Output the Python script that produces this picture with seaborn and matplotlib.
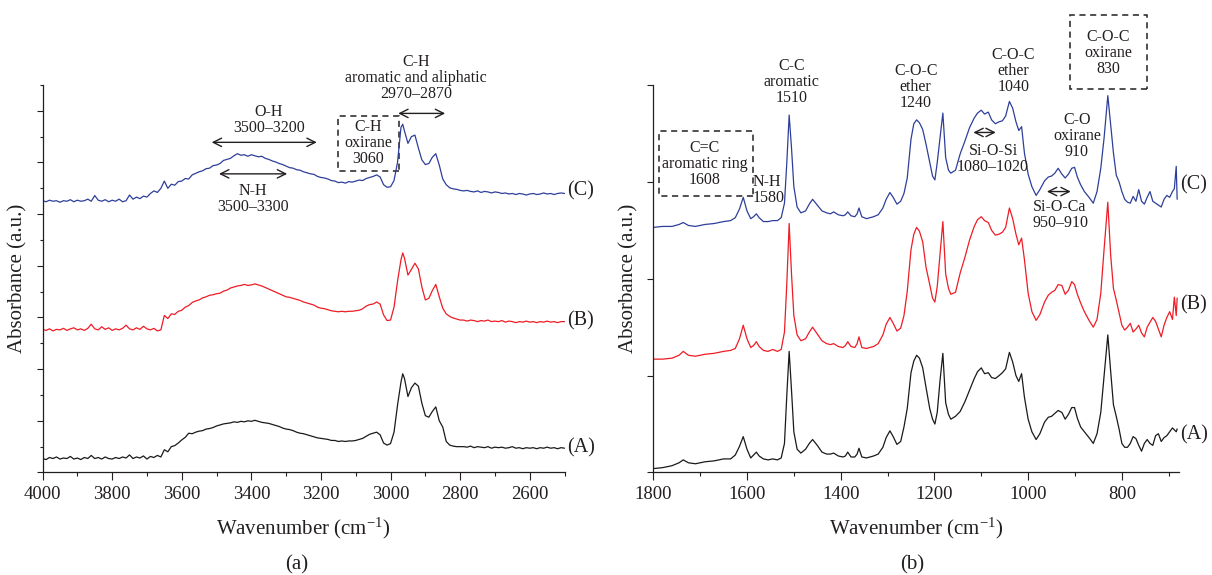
import matplotlib.pyplot as plt
import matplotlib.patches as patches
import seaborn as sns

# ---------------- panel (a): 4000-2500 cm-1 ----------------
wn_a = [4000, 3990, 3980, 3970, 3960, 3950, 3940, 3930, 3920, 3910,
        3900, 3890, 3880, 3870, 3860, 3850, 3840, 3830, 3820, 3810,
        3800, 3790, 3780, 3770, 3760, 3750, 3740, 3730, 3720, 3710,
        3700, 3690, 3680, 3670, 3660, 3650, 3640, 3630, 3620, 3610,
        3600, 3590, 3580, 3570, 3560, 3550, 3540, 3530, 3520, 3510,
        3500, 3490, 3480, 3470, 3460, 3450, 3440, 3430, 3420, 3410,
        3400, 3390, 3380, 3370, 3360, 3350, 3340, 3330, 3320, 3310,
        3300, 3290, 3280, 3270, 3260, 3250, 3240, 3230, 3220, 3210,
        3200, 3190, 3180, 3170, 3160, 3150, 3140, 3130, 3120, 3110,
        3100, 3090, 3080, 3070, 3060, 3050, 3040, 3030, 3020, 3010,
        3000, 2990, 2980, 2970, 2965, 2960, 2950, 2940, 2930, 2920,
        2910, 2900, 2890, 2880, 2870, 2860, 2850, 2840, 2830, 2820,
        2810, 2800,
        2790, 2780, 2770, 2760, 2750, 2740, 2730, 2720, 2710, 2700,
        2690, 2680, 2670, 2660, 2650, 2640, 2630, 2620, 2610, 2600,
        2590, 2580, 2570, 2560, 2550, 2540, 2530, 2520, 2510, 2500]

spec_a_C = [5.26, 5.24, 5.27, 5.25, 5.26, 5.23, 5.26, 5.25, 5.28, 5.24,
            5.27, 5.25, 5.26, 5.29, 5.25, 5.36, 5.27, 5.25, 5.28, 5.24,
            5.27, 5.25, 5.29, 5.24, 5.26, 5.37, 5.29, 5.33, 5.30, 5.35,
            5.33, 5.40, 5.45, 5.42, 5.50, 5.64, 5.50, 5.58, 5.56, 5.63,
            5.64, 5.69, 5.68, 5.76, 5.79, 5.82, 5.84, 5.88, 5.89, 5.94,
            5.95, 5.98, 6.04, 6.06, 6.08, 6.13, 6.17, 6.14, 6.15, 6.12,
            6.15, 6.13, 6.11, 6.12, 6.08, 6.06, 6.03, 6.01, 5.98, 5.96,
            5.93, 5.90, 5.89, 5.86, 5.85, 5.82, 5.80, 5.78, 5.77, 5.73,
            5.71, 5.70, 5.68, 5.65, 5.64, 5.61, 5.62, 5.60, 5.63, 5.62,
            5.64, 5.66, 5.65, 5.69, 5.71, 5.73, 5.76, 5.72, 5.57, 5.52,
            5.53, 5.65, 6.00, 6.68, 6.74, 6.61, 6.37, 6.50, 6.53, 6.28,
            6.05, 5.96, 5.98, 6.10, 6.17, 5.95, 5.68, 5.57, 5.51, 5.49,
            5.48, 5.46,
            5.45, 5.46, 5.44, 5.43, 5.45, 5.42, 5.44, 5.43, 5.41, 5.43,
            5.42, 5.40, 5.41, 5.39, 5.40, 5.38, 5.40, 5.39, 5.37, 5.39,
            5.40, 5.38, 5.39, 5.41, 5.39, 5.40, 5.38, 5.40, 5.41, 5.40]

spec_a_B = [2.77, 2.75, 2.78, 2.74, 2.77, 2.76, 2.79, 2.75, 2.78, 2.80,
            2.76, 2.78, 2.75, 2.79, 2.87, 2.78, 2.76, 2.82, 2.77, 2.80,
            2.75, 2.78, 2.76, 2.79, 2.85, 2.78, 2.76, 2.80, 2.77, 2.83,
            2.78, 2.76, 2.79, 2.74, 2.76, 3.04, 2.98, 3.07, 3.06, 3.12,
            3.14, 3.20, 3.23, 3.29, 3.32, 3.34, 3.38, 3.40, 3.43, 3.44,
            3.46, 3.47, 3.51, 3.53, 3.57, 3.59, 3.61, 3.62, 3.64, 3.62,
            3.63, 3.65, 3.63, 3.61, 3.58, 3.55, 3.52, 3.49, 3.46, 3.43,
            3.40, 3.39, 3.37, 3.35, 3.33, 3.30, 3.28, 3.26, 3.24, 3.20,
            3.18, 3.17, 3.15, 3.13, 3.12, 3.11, 3.12, 3.11, 3.12, 3.12,
            3.13, 3.14, 3.17, 3.22, 3.25, 3.26, 3.30, 3.26, 3.05, 2.94,
            2.95, 3.20, 3.70, 4.12, 4.25, 4.15, 3.82, 3.93, 4.05, 3.94,
            3.59, 3.34, 3.37, 3.52, 3.64, 3.40, 3.18, 3.07, 3.02, 2.99,
            2.97, 2.95,
            2.95, 2.93, 2.95, 2.94, 2.92, 2.94, 2.93, 2.95, 2.92, 2.93,
            2.92, 2.94, 2.91, 2.93, 2.92, 2.90, 2.92, 2.91, 2.93, 2.91,
            2.92, 2.90, 2.92, 2.91, 2.93, 2.91, 2.92, 2.90, 2.92, 2.92]

spec_a_A = [0.27, 0.25, 0.29, 0.27, 0.30, 0.26, 0.28, 0.27, 0.31, 0.26,
            0.28, 0.25, 0.29, 0.27, 0.33, 0.27, 0.29, 0.26, 0.30, 0.27,
            0.26, 0.29, 0.27, 0.30, 0.28, 0.34, 0.27, 0.30, 0.28, 0.32,
            0.26, 0.31, 0.29, 0.33, 0.30, 0.44, 0.40, 0.50, 0.52, 0.57,
            0.63, 0.68, 0.76, 0.75, 0.78, 0.80, 0.81, 0.84, 0.85, 0.87,
            0.90, 0.92, 0.94, 0.95, 0.96, 0.98, 0.97, 0.99, 0.98, 1.00,
            0.99, 1.01, 0.99, 0.97, 0.96, 0.95, 0.93, 0.91, 0.89, 0.86,
            0.84, 0.83, 0.81, 0.78, 0.76, 0.75, 0.73, 0.71, 0.69, 0.67,
            0.66, 0.65, 0.64, 0.62, 0.62, 0.60, 0.61, 0.60, 0.61, 0.61,
            0.62, 0.64, 0.66, 0.70, 0.74, 0.76, 0.78, 0.73, 0.57, 0.53,
            0.56, 0.78, 1.30, 1.75, 1.91, 1.82, 1.47, 1.64, 1.73, 1.67,
            1.34, 1.10, 1.07, 1.18, 1.27, 1.00, 0.88, 0.60, 0.53, 0.51,
            0.50, 0.50,
            0.50, 0.49, 0.51, 0.48, 0.50, 0.49, 0.48, 0.50, 0.47, 0.49,
            0.48, 0.49, 0.47, 0.48, 0.50, 0.47, 0.48, 0.46, 0.48, 0.47,
            0.48, 0.46, 0.48, 0.47, 0.49, 0.47, 0.48, 0.46, 0.48, 0.47]

# ---------------- panel (b): 1800-680 cm-1 ----------------
wn_b = [1800, 1780, 1760, 1745, 1736, 1725, 1710, 1690, 1670, 1650,
        1635, 1625, 1616, 1608, 1600, 1592, 1586, 1580, 1574, 1565,
        1555, 1545, 1535, 1527, 1520, 1515, 1510, 1505, 1500, 1493,
        1485, 1475, 1467, 1460, 1450, 1440, 1430, 1422, 1415, 1405,
        1395, 1390, 1385, 1378, 1370, 1365, 1361, 1355, 1345, 1330,
        1320, 1310, 1303, 1295, 1288, 1280, 1272, 1265, 1258, 1250,
        1244, 1238, 1232, 1225, 1218, 1210, 1204, 1199, 1194, 1188,
        1182, 1176, 1170, 1165, 1155, 1145, 1135, 1125, 1115, 1108,
        1100, 1093, 1085, 1078, 1070, 1062, 1055, 1048, 1040, 1033,
        1026, 1020, 1014, 1008, 1000, 992, 983, 975, 965, 957,
        950, 943, 936, 928, 921, 914, 907, 901, 895, 888,
        880, 870, 861, 853, 845, 838, 830, 824, 818, 812,
        806, 800, 794, 788, 782, 776, 770, 764, 758, 752,
        746, 740, 734, 728, 722, 716, 710, 704, 698, 692,
        688, 684, 682]

spec_b_C = [2.53, 2.54, 2.54, 2.56, 2.58, 2.55, 2.54, 2.56, 2.57, 2.59,
            2.60, 2.63, 2.72, 2.84, 2.70, 2.62, 2.64, 2.67, 2.63, 2.59,
            2.59, 2.60, 2.60, 2.63, 2.78, 3.20, 3.69, 3.35, 2.95, 2.74,
            2.68, 2.70, 2.77, 2.82, 2.76, 2.70, 2.68, 2.67, 2.69, 2.66,
            2.65, 2.66, 2.69, 2.65, 2.64, 2.67, 2.73, 2.64, 2.62, 2.64,
            2.66, 2.73, 2.82, 2.89, 2.84, 2.77, 2.80, 2.88, 3.04, 3.44,
            3.60, 3.64, 3.61, 3.54, 3.39, 3.20, 3.06, 3.02, 3.20, 3.45,
            3.71, 3.25, 3.12, 3.09, 3.12, 3.29, 3.42, 3.56, 3.66, 3.71,
            3.74, 3.70, 3.72, 3.64, 3.60, 3.62, 3.63, 3.68, 3.83, 3.76,
            3.62, 3.53, 3.57, 3.30, 3.08, 2.95, 2.86, 2.92, 3.01, 3.05,
            3.06, 3.09, 3.14, 3.08, 3.04, 3.08, 3.14, 3.15, 3.05, 2.97,
            2.90, 2.84, 2.78, 2.90, 3.14, 3.45, 3.89, 3.60, 3.30, 3.07,
            3.00, 2.90, 2.82, 2.79, 2.78, 2.85, 2.80, 2.92, 2.80, 2.77,
            2.84, 2.90, 2.80, 2.78, 2.76, 2.74, 2.82, 2.86, 2.84, 2.90,
            2.93, 3.16, 2.82]

spec_b_B = [1.17, 1.17, 1.18, 1.21, 1.25, 1.21, 1.20, 1.22, 1.23, 1.25,
            1.26, 1.28, 1.38, 1.52, 1.38, 1.29, 1.31, 1.35, 1.30, 1.26,
            1.25, 1.27, 1.25, 1.27, 1.45, 1.95, 2.57, 2.05, 1.62, 1.42,
            1.36, 1.38, 1.45, 1.50, 1.43, 1.36, 1.33, 1.32, 1.33, 1.30,
            1.29, 1.31, 1.35, 1.30, 1.29, 1.33, 1.40, 1.29, 1.28, 1.30,
            1.33, 1.42, 1.53, 1.60, 1.54, 1.46, 1.49, 1.62, 1.87, 2.30,
            2.46, 2.53, 2.49, 2.38, 2.12, 1.94, 1.80, 1.76, 1.92, 2.25,
            2.59, 2.05, 1.90, 1.84, 1.86, 2.06, 2.22, 2.40, 2.54, 2.61,
            2.64, 2.60, 2.58, 2.50, 2.45, 2.46, 2.48, 2.53, 2.73, 2.62,
            2.46, 2.35, 2.42, 2.20, 1.85, 1.66, 1.57, 1.63, 1.76, 1.83,
            1.86, 1.88, 1.94, 1.93, 1.84, 1.88, 1.97, 1.94, 1.84, 1.75,
            1.66, 1.57, 1.50, 1.58, 1.85, 2.30, 2.79, 2.25, 1.90, 1.78,
            1.65, 1.52, 1.47, 1.50, 1.54, 1.45, 1.48, 1.52, 1.44, 1.40,
            1.50, 1.55, 1.60, 1.56, 1.48, 1.40, 1.52, 1.60, 1.66, 1.58,
            1.81, 1.62, 1.80]

spec_b_A = [0.04, 0.05, 0.07, 0.10, 0.13, 0.10, 0.09, 0.11, 0.12, 0.14,
            0.14, 0.18, 0.27, 0.37, 0.24, 0.15, 0.18, 0.21, 0.17, 0.14,
            0.13, 0.14, 0.13, 0.15, 0.30, 0.80, 1.25, 0.85, 0.42, 0.24,
            0.20, 0.24, 0.30, 0.34, 0.28, 0.21, 0.19, 0.19, 0.20, 0.17,
            0.16, 0.17, 0.21, 0.16, 0.16, 0.19, 0.25, 0.16, 0.15, 0.17,
            0.19, 0.26, 0.36, 0.43, 0.37, 0.29, 0.32, 0.47, 0.66, 1.03,
            1.15, 1.21, 1.18, 1.08, 0.88, 0.66, 0.55, 0.50, 0.62, 0.95,
            1.23, 0.72, 0.60, 0.55, 0.58, 0.63, 0.73, 0.85, 0.97, 1.04,
            1.08, 1.02, 1.03, 0.98, 0.97, 1.00, 1.03, 1.07, 1.24, 1.14,
            1.00, 0.94, 1.02, 0.78, 0.55, 0.42, 0.34, 0.40, 0.52, 0.57,
            0.58, 0.61, 0.64, 0.62, 0.55, 0.60, 0.67, 0.67, 0.56, 0.47,
            0.42, 0.36, 0.30, 0.40, 0.62, 1.00, 1.42, 1.05, 0.70, 0.58,
            0.45, 0.30, 0.26, 0.26, 0.30, 0.37, 0.35, 0.28, 0.22, 0.30,
            0.34, 0.30, 0.28, 0.38, 0.40, 0.32, 0.36, 0.38, 0.42, 0.46,
            0.44, 0.42, 0.45]

series_names = ["(A)", "(B)", "(C)"]
series_colors = ["#1a1a1a", "#ee1c25", "#2e3f9a"]
ink = "#231f20"

sns.set_theme(style="ticks")
plt.rcParams['font.family'] = ['Liberation Serif', 'DejaVu Serif']
plt.rcParams['mathtext.fontset'] = 'custom'
plt.rcParams['mathtext.rm'] = 'Liberation Serif'
plt.rcParams['mathtext.it'] = 'Liberation Serif:italic'

fig = plt.figure(figsize=(12.12, 5.75), dpi=100)
ax_a = fig.add_axes([0.0351, 0.1783, 0.4307, 0.6739])
ax_b = fig.add_axes([0.5390, 0.1783, 0.4338, 0.6739])


def draw(ax, wn, specs):
    for y, color in zip(specs, series_colors):
        sns.lineplot(x=wn, y=y, ax=ax, color=color, lw=0.9, estimator=None)


def style(ax, xlim, xmajor, xminor, ylim, ymajor, yminor):
    ax.set_xlim(*xlim)
    ax.set_ylim(*ylim)
    ax.set_xticks(xmajor)
    ax.set_xticks(xminor, minor=True)
    ax.set_yticks(ymajor)
    ax.set_yticks(yminor, minor=True)
    ax.set_yticklabels([])
    sns.despine(ax=ax)
    for s in ["left", "bottom"]:
        ax.spines[s].set_color(ink)
        ax.spines[s].set_linewidth(0.9)
    ax.tick_params(axis="x", which="major", length=5.5, width=0.8, pad=4,
                   labelsize=13.5, color=ink, labelcolor=ink)
    ax.tick_params(axis="x", which="minor", length=3, width=0.8, color=ink)
    ax.tick_params(axis="y", which="major", length=4, width=0.8, color=ink)
    ax.tick_params(axis="y", which="minor", length=2.4, width=0.8, color=ink)
    ax.set_xlabel("Wavenumber (cm$^{-1}$)", fontsize=15, color=ink)
    ax.xaxis.set_label_coords(0.5, -0.143)
    ax.xaxis.label.set_va("center")
    ax.set_ylabel("Absorbance (a.u.)", fontsize=15, color=ink, labelpad=3)


draw(ax_a, wn_a, [spec_a_A, spec_a_B, spec_a_C])
style(ax_a, (4000, 2500), [4000, 3800, 3600, 3400, 3200, 3000, 2800, 2600],
      [3900, 3700, 3500, 3300, 3100, 2900, 2700, 2500],
      (0, 7.5), [0, 1, 2, 3, 4, 5, 6, 7], [0.5, 1.5, 2.5, 3.5, 4.5, 5.5, 6.5, 7.5])

draw(ax_b, wn_b, [spec_b_A, spec_b_B, spec_b_C])
style(ax_b, (1800, 678), [1800, 1600, 1400, 1200, 1000, 800],
      [1700, 1500, 1300, 1100, 900, 700],
      (0, 4), [0, 1, 2, 3, 4], [])

# curve labels
for ax, ys, xa in [(ax_a, [0.47, 2.94, 5.45], 1.004), (ax_b, [0.39, 1.73, 2.97], 1.002)]:
    for name, y in zip(series_names, ys):
        ax.text(xa, y, name, transform=ax.get_yaxis_transform(), ha="left",
                va="center", fontsize=14.5, color=ink, clip_on=False)

note = dict(fontsize=11.5, color=ink, ha="center", va="center", linespacing=1.0)
arrow = dict(arrowstyle="<->,head_length=0.5,head_width=0.25", lw=1.0, color=ink,
             shrinkA=0, shrinkB=0)


def dbl_arrow(ax, x0, x1, y):
    ax.annotate("", xy=(x1, y), xytext=(x0, y), arrowprops=arrow, annotation_clip=False)


def dashed_box(ax, x0, x1, y0, y1):
    ax.add_patch(patches.Rectangle((min(x0, x1), y0), abs(x1 - x0), y1 - y0,
                                   fill=False, ls=(0, (4, 3)), lw=1.1,
                                   edgecolor=ink, clip_on=False))


# panel (a) notes
ax_a.text(2927, 7.64, "C-H\naromatic and aliphatic\n2970\u20132870", clip_on=False, **note)
dbl_arrow(ax_a, 2978, 2843, 6.95)
dashed_box(ax_a, 3150, 2977, 5.83, 6.90)
ax_a.text(3065, 6.37, "C-H\noxirane\n3060", **note)
ax_a.text(3350, 6.82, "O-H\n3500\u20133200", **note)
dbl_arrow(ax_a, 3514, 3212, 6.39)
dbl_arrow(ax_a, 3493, 3297, 5.78)
ax_a.text(3395, 5.30, "N-H\n3500\u20133300", **note)

# panel (b) notes
dashed_box(ax_b, 1787, 1587, 2.85, 3.52)
ax_b.text(1690, 3.18, "C=C\naromatic ring\n1608", **note)
ax_b.text(1589, 2.92, "N-H\n1580", **{**note, "ha": "left"})
ax_b.text(1505, 4.03, "C-C\naromatic\n1510", **note)
ax_b.text(1240, 3.98, "C-O-C\nether\n1240", **note)
ax_b.text(1031, 4.14, "C-O-C\nether\n1040", **note)
dbl_arrow(ax_b, 1117, 1069, 3.51)
ax_b.text(1075, 3.24, "Si-O-Si\n1080\u20131020", **note)
ax_b.text(896, 3.47, "C-O\noxirane\n910", **note)
dbl_arrow(ax_b, 960, 909, 2.90)
ax_b.text(932, 2.66, "Si-O-Ca\n950\u2013910", **note)
dashed_box(ax_b, 910, 747, 3.96, 4.72)
ax_b.text(829, 4.33, "C-O-C\noxirane\n830", clip_on=False, **note)

fig.text(0.2446, 0.0174, "(a)", ha="center", va="center", fontsize=15, color=ink)
fig.text(0.753, 0.0174, "(b)", ha="center", va="center", fontsize=15, color=ink)

fig.savefig("out.png", dpi=100)
